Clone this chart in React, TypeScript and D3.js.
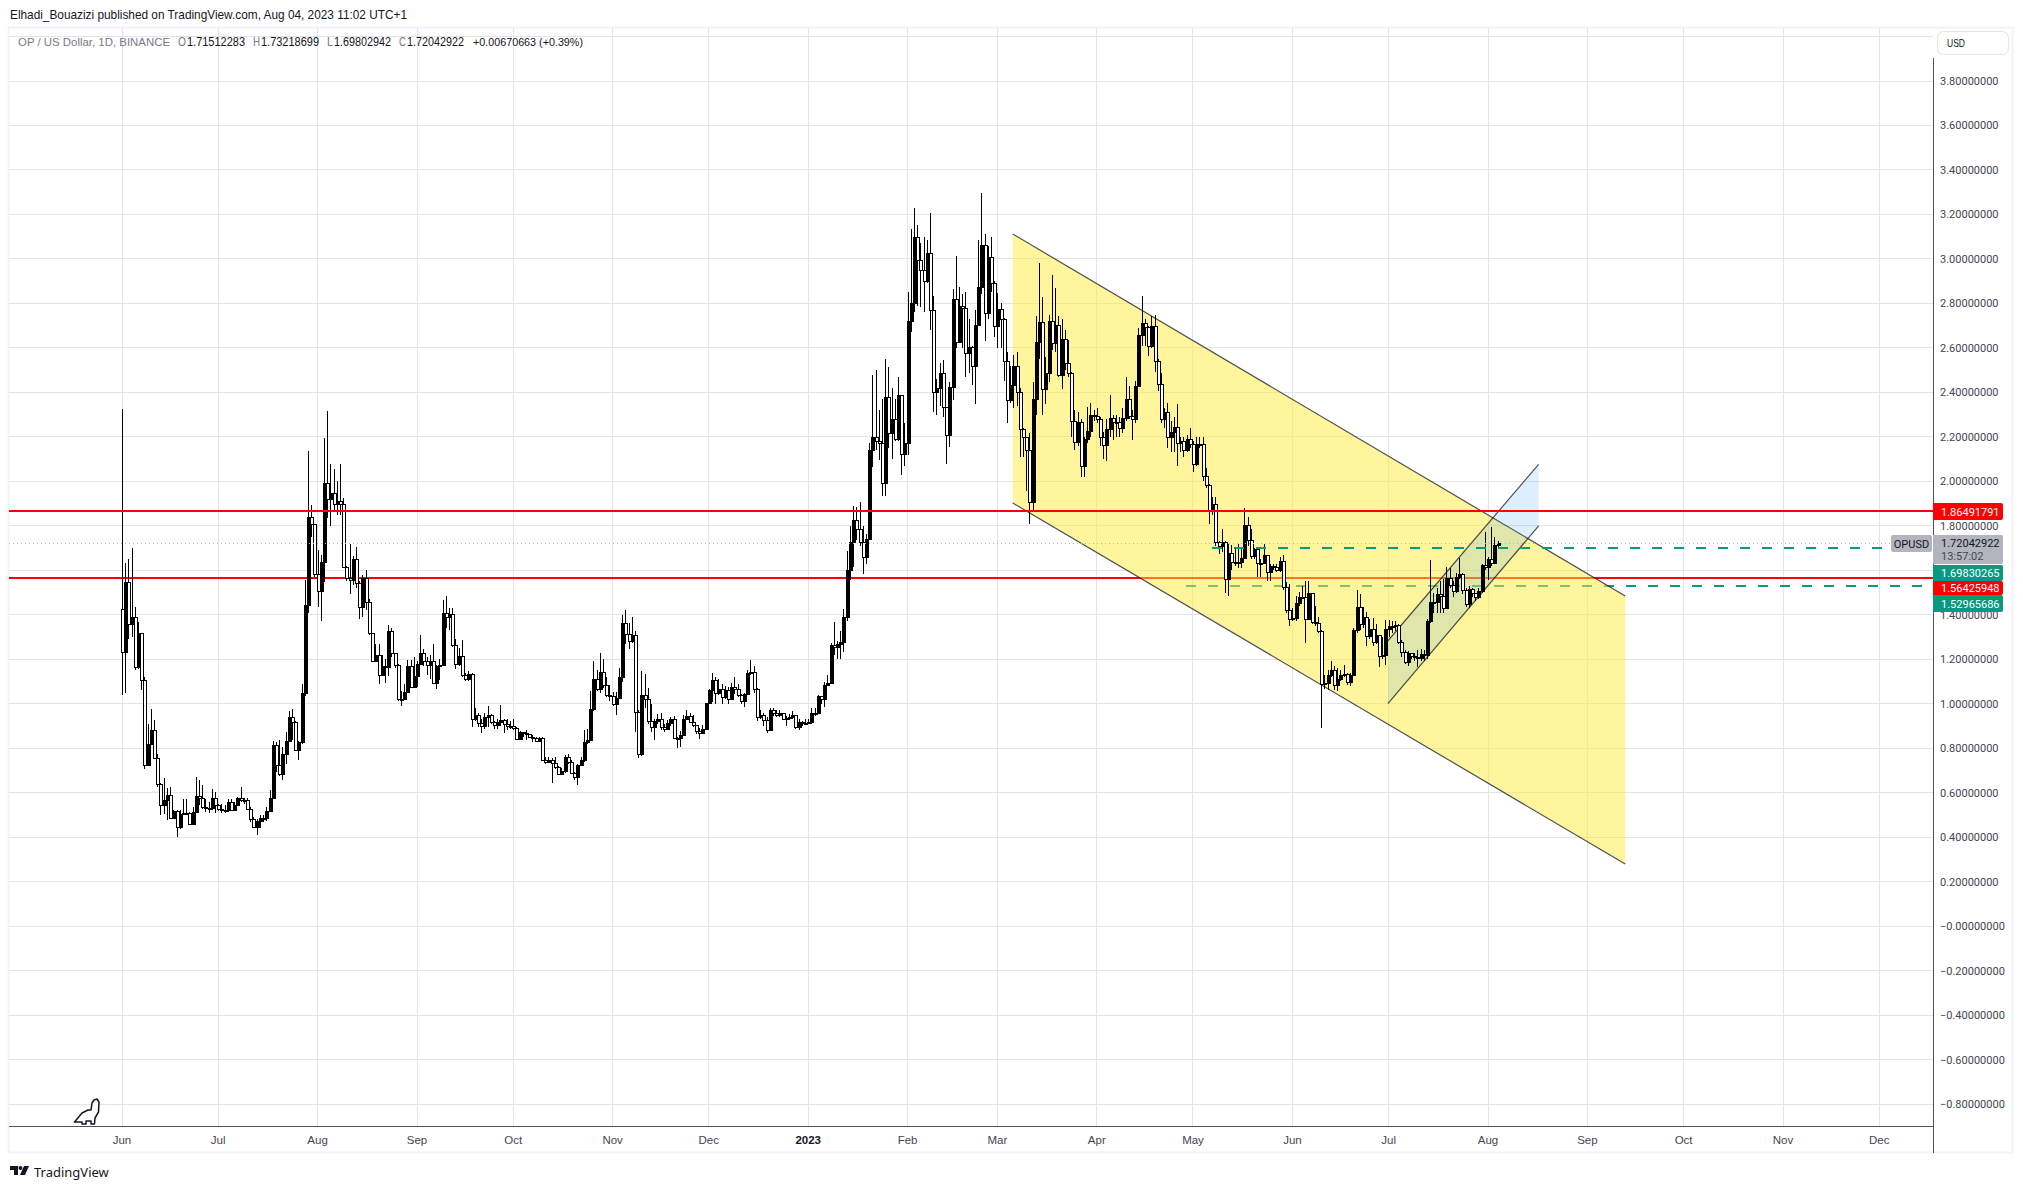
import React from "react";
import * as d3 from "d3";

const WIDTH = 2023;
const HEIGHT = 1189;

// daily candles from 2022-06-01, one value per day, ten per line
const firstOpen = 1.425;
const closes = [
  1.234,1.546,1.359,1.389,1.167,1.32,1.107,.726,.821,.88,
  .758,.64,.544,.566,.59,.488,.516,.446,.506,.509,
  .51,.461,.513,.585,.578,.536,.532,.533,.578,.544,
  .526,.521,.523,.559,.524,.544,.574,.566,.566,.528,
  .48,.446,.473,.488,.484,.518,.578,.816,.724,.686,
  .776,.833,.938,.918,.794,.826,1.05,1.446,1.841,1.806,
  1.583,1.508,1.635,1.991,1.919,1.946,1.9,1.91,1.898,1.616,
  1.564,1.556,1.649,1.541,1.436,1.567,1.457,1.32,1.193,1.22,
  1.13,1.17,1.166,1.326,1.226,1.174,1.019,1.02,1.053,1.17,
  1.076,1.126,1.18,1.23,1.193,1.174,1.192,1.094,1.169,1.176,
  1.41,1.391,1.402,1.264,1.18,1.214,1.128,1.109,1.132,.929,
  .951,.914,.899,.938,.948,.918,.906,.918,.926,.908,
  .9,.9,.891,.84,.872,.866,.863,.851,.846,.834,
  .844,.749,.74,.746,.734,.716,.686,.698,.761,.738,
  .69,.671,.726,.749,.828,.839,.974,1.113,1.068,1.144,
  1.084,1.04,1.034,1.0,1.026,1.118,1.361,1.313,1.281,1.308,
  .963,.776,1.038,1.019,.92,.896,.92,.933,.896,.886,
  .911,.93,.846,.846,.861,.929,.944,.918,.903,.878,
  .869,.888,1.001,1.061,1.106,1.049,1.068,1.028,1.061,1.022,
  1.076,1.068,1.041,1.013,1.043,1.136,1.144,1.064,.941,.951,
  .926,.881,.971,.96,.951,.959,.929,.936,.941,.948,
  .893,.918,.911,.914,.917,.956,.959,1.034,1.02,1.083,
  1.094,1.264,1.253,1.268,1.278,1.388,1.6,1.727,1.825,1.787,
  1.727,1.66,1.742,2.143,2.197,2.182,2.17,1.993,2.377,2.218,
  2.278,2.19,2.39,2.125,2.17,2.72,2.8,3.097,2.995,2.95,
  2.9,3.025,2.77,2.4,2.418,2.485,2.332,2.21,2.425,2.818,
  2.625,2.79,2.778,2.578,2.605,2.518,2.705,2.872,3.062,2.755,
  3.01,2.893,2.7,2.773,2.728,2.542,2.365,2.432,2.518,2.4,
  2.233,2.197,2.143,1.907,2.372,2.625,2.715,2.413,2.485,2.72,
  2.623,2.705,2.48,2.642,2.53,2.485,2.27,2.177,2.265,2.068,
  2.192,2.227,2.3,2.293,2.28,2.2,2.165,2.233,2.283,2.265,
  2.268,2.238,2.283,2.368,2.295,2.28,2.43,2.658,2.71,2.693,
  2.608,2.7,2.542,2.437,2.278,2.31,2.2,2.22,2.245,2.17,
  2.18,2.14,2.19,2.167,2.08,2.167,2.167,2.025,1.982,1.873,
  1.898,1.726,1.71,1.726,1.559,1.676,1.638,1.638,1.638,1.654,
  1.804,1.736,1.664,1.694,1.634,1.631,1.668,1.59,1.619,1.616,
  1.6,1.642,1.523,1.421,1.383,1.386,1.451,1.481,1.48,1.383,
  1.496,1.368,1.361,1.328,1.09,1.094,1.13,1.15,1.083,1.109,
  1.129,1.133,1.096,1.131,1.331,1.433,1.357,1.388,1.305,1.336,
  1.279,1.308,1.216,1.218,1.334,1.349,1.349,1.352,1.279,1.233,
  1.186,1.226,1.214,1.211,1.204,1.222,1.217,1.371,1.456,1.458,
  1.493,1.486,1.429,1.563,1.533,1.508,1.568,1.581,1.511,1.448,
  1.516,1.496,1.478,1.508,1.624,1.613,1.65,1.634,1.715,1.72042922,
];
const highs = [
  2.326,1.632,1.65,1.7,1.434,1.366,1.32,1.118,.907,.975,
  .927,.776,.645,.666,.62,.626,.524,.52,.524,.573,
  .57,.515,.536,.671,.656,.633,.573,.56,.615,.604,
  .55,.55,.545,.573,.573,.56,.58,.626,.575,.575,
  .535,.49,.483,.5,.5,.536,.61,.833,.828,.839,
  .806,.873,.966,.974,.923,.833,1.088,1.556,2.136,1.894,
  1.806,1.69,1.67,2.196,2.316,2.08,2.054,2.0,2.076,1.923,
  1.62,1.72,1.664,1.703,1.55,1.58,1.6,1.47,1.32,1.27,
  1.267,1.22,1.2,1.353,1.34,1.23,1.18,1.057,1.088,1.196,
  1.196,1.21,1.19,1.308,1.248,1.21,1.22,1.27,1.173,1.2,
  1.466,1.484,1.43,1.43,1.293,1.25,1.286,1.14,1.146,1.136,
  .979,.96,.933,.956,.989,.953,.92,.933,.993,.933,
  .93,.92,.93,.895,.878,.874,.88,.86,.857,.85,
  .85,.848,.76,.76,.757,.76,.72,.71,.768,.776,
  .745,.695,.731,.761,.881,.888,1.056,1.19,1.15,1.23,
  1.2,1.12,1.083,1.054,1.054,1.16,1.4,1.421,1.364,1.388,
  1.328,.97,1.146,1.133,1.07,1.0,.933,.953,.96,.91,
  .926,.941,.945,.85,.876,.948,.971,.956,.948,.905,
  .889,.903,1.004,1.065,1.139,1.118,1.113,1.09,1.08,1.073,
  1.091,1.118,1.088,1.045,1.05,1.15,1.196,1.17,1.07,.97,
  .96,.94,.98,.98,.97,.97,.955,.945,.955,.965,
  .95,.93,.92,.93,.93,.979,.98,1.04,1.035,1.098,
  1.128,1.274,1.368,1.28,1.328,1.424,1.687,1.8,1.888,1.885,
  1.905,1.798,1.762,2.17,2.48,2.5,2.32,2.368,2.55,2.515,
  2.418,2.37,2.467,2.39,2.263,2.85,3.133,3.228,3.152,3.07,
  3.1,3.085,3.205,2.833,2.46,2.533,2.545,2.33,2.448,2.863,
  3.013,2.875,2.84,2.85,2.73,2.61,2.77,3.085,3.295,3.112,
  3.06,3.097,2.9,2.845,2.8,2.735,2.58,2.52,2.57,2.58,
  2.418,2.24,2.2,2.215,2.448,2.743,2.98,2.83,2.56,2.748,
  2.927,2.867,2.743,2.73,2.68,2.635,2.49,2.32,2.31,2.28,
  2.2,2.335,2.35,2.32,2.328,2.29,2.22,2.28,2.39,2.3,
  2.3,2.29,2.33,2.47,2.43,2.32,2.45,2.69,2.833,2.73,
  2.7,2.743,2.75,2.55,2.485,2.33,2.35,2.27,2.29,2.347,
  2.2,2.2,2.21,2.238,2.18,2.2,2.2,2.2,2.06,1.99,
  1.93,1.93,1.73,1.785,1.73,1.72,1.713,1.7,1.72,1.7,
  1.878,1.84,1.784,1.7,1.7,1.65,1.72,1.67,1.63,1.63,
  1.63,1.66,1.67,1.545,1.536,1.43,1.486,1.503,1.53,1.55,
  1.551,1.5,1.44,1.39,1.33,1.13,1.15,1.19,1.17,1.16,
  1.15,1.176,1.14,1.14,1.34,1.51,1.493,1.436,1.414,1.379,
  1.384,1.36,1.31,1.3,1.376,1.376,1.37,1.37,1.36,1.285,
  1.24,1.235,1.23,1.23,1.24,1.244,1.24,1.38,1.646,1.5,
  1.52,1.55,1.56,1.613,1.608,1.55,1.589,1.656,1.586,1.52,
  1.53,1.52,1.5,1.52,1.63,1.77,1.66,1.793,1.748,1.73218699,
];
const lows = [
  1.04,1.05,1.29,1.3,1.152,1.155,1.06,.705,.726,.82,
  .75,.626,.5,.506,.476,.483,.483,.4,.438,.498,
  .5,.455,.46,.513,.544,.528,.513,.509,.521,.509,
  .516,.51,.51,.513,.52,.517,.54,.558,.55,.52,
  .468,.445,.41,.44,.47,.473,.518,.573,.694,.674,
  .656,.73,.83,.836,.79,.746,.82,1.034,1.409,1.75,
  1.57,1.433,1.37,1.546,1.833,1.8,1.87,1.85,1.85,1.61,
  1.55,1.493,1.533,1.518,1.383,1.39,1.42,1.31,1.19,1.19,
  1.09,1.125,1.094,1.124,1.21,1.16,1.01,.99,1.016,1.05,
  1.07,1.076,1.076,1.174,1.17,1.128,1.11,1.09,1.067,1.106,
  1.178,1.34,1.33,1.256,1.158,1.17,1.12,1.1,1.1,.896,
  .92,.896,.866,.885,.893,.91,.888,.888,.9,.869,
  .88,.885,.88,.836,.836,.85,.836,.845,.83,.826,
  .83,.745,.728,.735,.644,.708,.68,.68,.69,.73,
  .685,.656,.634,.72,.738,.82,.838,.966,1.058,1.05,
  1.07,1.03,1.01,.99,.95,1.02,1.098,1.27,1.248,1.275,
  .873,.757,.766,.98,.91,.873,.836,.91,.88,.873,
  .88,.9,.84,.803,.806,.855,.925,.912,.895,.862,
  .84,.866,.89,.998,1.008,1.0,1.04,1.0,1.02,.998,
  1.02,1.045,1.03,1.0,.986,1.04,1.13,1.05,.923,.93,
  .9,.869,.88,.945,.94,.94,.925,.9,.925,.93,
  .885,.88,.9,.905,.908,.91,.945,.952,1.0,.986,
  1.08,1.09,1.22,1.2,1.2,1.233,1.37,1.555,1.615,1.735,
  1.71,1.585,1.627,1.74,2.065,2.14,2.095,1.935,1.935,2.148,
  2.1,2.18,2.18,2.028,2.07,2.117,2.672,2.762,2.79,2.785,
  2.76,2.89,2.68,2.31,2.3,2.34,2.29,2.08,2.155,2.365,
  2.6,2.62,2.6,2.47,2.485,2.435,2.347,2.7,2.84,2.632,
  2.73,2.85,2.647,2.6,2.6,2.45,2.26,2.35,2.33,2.34,
  2.11,2.11,1.955,1.81,1.863,2.3,2.55,2.3,2.347,2.447,
  2.59,2.58,2.47,2.415,2.5,2.47,2.2,2.14,2.16,2.02,
  2.02,2.17,2.2,2.27,2.26,2.158,2.1,2.09,2.2,2.185,
  2.2,2.2,2.215,2.27,2.28,2.185,2.26,2.425,2.61,2.61,
  2.565,2.6,2.49,2.407,2.26,2.24,2.148,2.13,2.13,2.07,
  2.13,2.11,2.13,2.15,2.04,2.07,2.15,2.0,1.97,1.81,
  1.85,1.71,1.673,1.68,1.496,1.486,1.6,1.62,1.61,1.61,
  1.65,1.71,1.65,1.65,1.57,1.57,1.63,1.55,1.55,1.6,
  1.59,1.59,1.51,1.41,1.35,1.37,1.37,1.44,1.47,1.274,
  1.38,1.36,1.35,1.32,.889,1.064,1.06,1.12,1.06,1.056,
  1.1,1.12,1.085,1.08,1.125,1.32,1.33,1.34,1.26,1.29,
  1.26,1.27,1.166,1.2,1.175,1.3,1.32,1.325,1.27,1.21,
  1.178,1.17,1.2,1.19,1.163,1.19,1.19,1.2,1.365,1.41,
  1.41,1.41,1.406,1.43,1.52,1.48,1.5,1.56,1.495,1.436,
  1.43,1.48,1.463,1.47,1.5,1.6,1.556,1.62,1.63,1.69802942,
];

const priceTicks = [3.8,3.6,3.4,3.2,3,2.8,2.6,2.4,2.2,2,1.8,1.6,1.4,1.2,1,.8,.6,.4,.2,0,-.2,-.4,-.6,-.8];
const monthNames = ["Jun","Jul","Aug","Sep","Oct","Nov","Dec","2023","Feb","Mar","Apr","May","Jun","Jul","Aug","Sep","Oct","Nov","Dec"];
const monthDates = ["2022-06-01","2022-07-01","2022-08-01","2022-09-01","2022-10-01","2022-11-01","2022-12-01","2023-01-01","2023-02-01","2023-03-01","2023-04-01","2023-05-01","2023-06-01","2023-07-01","2023-08-01","2023-09-01","2023-10-01","2023-11-01","2023-12-01"];

// drawings, as date / price anchors
const bigChannel = { from: "2023-03-05T19:00Z", to: "2023-09-12T19:00Z", topFrom: 3.112, botFrom: 1.9025, topTo: 1.484, botTo: 0.279 };
const smallChannel = { from: "2023-06-30T19:00Z", to: "2023-08-16T19:00Z", topFrom: 1.283, botFrom: 1.0, topTo: 2.0765, botTo: 1.8 };
const upperLevel = 1.86491791;
const lowerLevel = 1.56425948;
const upperDash = { price: 1.69830265, from: "2023-05-06T21:00Z", to: "2023-12-01T19:00Z" };
const lowerDash = { price: 1.52965686, from: "2023-04-28T19:00Z", to: "2023-12-14T07:00Z" };
const lastPrice = 1.72042922;

const legendParts = [
  { x: 18, w: 152, size: 11.5, text: "OP / US Dollar, 1D, BINANCE", fill: "#787b86" },
  { x: 178, w: 8, size: 13, text: "O", fill: "#787b86" },
  { x: 187, w: 58, size: 13, text: "1.71512283", fill: "#131722" },
  { x: 253, w: 7, size: 13, text: "H", fill: "#787b86" },
  { x: 261, w: 58, size: 13, text: "1.73218699", fill: "#131722" },
  { x: 327, w: 6, size: 13, text: "L", fill: "#787b86" },
  { x: 334, w: 57, size: 13, text: "1.69802942", fill: "#131722" },
  { x: 399, w: 7, size: 13, text: "C", fill: "#787b86" },
  { x: 407, w: 57, size: 13, text: "1.72042922", fill: "#131722" },
  { x: 473, w: 110, size: 11.5, text: "+0.00670663 (+0.39%)", fill: "#131722" },
];

const x = d3.scaleUtc()
  .domain([new Date("2022-06-01"), new Date("2023-08-01")])
  .range([122, 1488]);
const y = d3.scaleLinear().domain([3.8, -0.8]).range([81, 1104]);

const dayX = (i: number) => x(new Date(Date.UTC(2022, 5, 1 + i)));
const priceLabel = (v: number) => v === 0 ? "\u22120.00000000" : (v < 0 ? "\u2212" : "") + Math.abs(v).toFixed(8);

const candles = closes.map((c, i) => ({
  i,
  open: i === 0 ? firstOpen : i === closes.length - 1 ? 1.71512283 : closes[i - 1],
  close: c,
  high: highs[i],
  low: lows[i],
}));

function channelPath(c: typeof bigChannel) {
  const x0 = x(new Date(c.from));
  const x1 = x(new Date(c.to));
  const area = d3.line()([[x0, y(c.topFrom)], [x1, y(c.topTo)], [x1, y(c.botTo)], [x0, y(c.botFrom)]]) + "Z";
  const top = d3.line()([[x0, y(c.topFrom)], [x1, y(c.topTo)]]) ?? undefined;
  const bot = d3.line()([[x0, y(c.botFrom)], [x1, y(c.botTo)]]) ?? undefined;
  return { area, top, bot };
}

const PRICE_FONT = "Roboto, sans-serif";
const TEXT_FONT = "'Liberation Sans', sans-serif";

export default function App() {
  const left = 9;
  const axisX = 1933;
  const axisY = 1126;
  const big = channelPath(bigChannel);
  const small = channelPath(smallChannel);

  const tags = [
    { text: "1.86491791", y0: 503, y1: 520, fill: "#ff0000", color: "#fff" },
    { text: "1.69830265", y0: 565, y1: 581, fill: "#089981", color: "#fff" },
    { text: "1.56425948", y0: 581, y1: 595, fill: "#ff0000", color: "#fff" },
    { text: "1.52965686", y0: 595, y1: 612, fill: "#089981", color: "#fff" },
  ];

  const levelY = (p: number) => Math.round(y(p));

  return (
    <svg width={WIDTH} height={HEIGHT} style={{ position: "absolute", left: 0, top: 0, background: "#fff" }}>
      <text x={10} y={19} fontFamily={TEXT_FONT} fontSize={13} fill="#131722" textLength={397} lengthAdjust="spacingAndGlyphs">
        Elhadi_Bouazizi published on TradingView.com, Aug 04, 2023 11:02 UTC+1
      </text>
      <rect x={8.5} y={27.5} width={2004} height={1125} fill="none" stroke="#f0f3fa" strokeWidth={2} />

      {/* grid */}
      <g stroke="#e4e4e8" strokeWidth={1} shapeRendering="crispEdges">
        {[4, ...priceTicks].map((v) => (
          <line key={v} x1={left} x2={axisX} y1={y(v)} y2={y(v)} />
        ))}
        {monthDates.map((d) => {
          const px = x(new Date(d));
          return <line key={d} x1={px} x2={px} y1={28} y2={axisY} />;
        })}
      </g>

      {/* below the channels */}
      <line x1={left} x2={axisX} y1={levelY(lowerLevel)} y2={levelY(lowerLevel)} stroke="#ff0000" strokeWidth={2} shapeRendering="crispEdges" />
      <line x1={x(new Date(lowerDash.from))} x2={x(new Date(lowerDash.to))} y1={levelY(lowerDash.price)} y2={levelY(lowerDash.price)}
        stroke="#089981" strokeWidth={2} strokeDasharray="10.5 11.5" shapeRendering="crispEdges" />

      <path d={big.area} fill="#ffeb3b" fillOpacity={0.5} />
      <path d={big.top} stroke="#131722" strokeOpacity={0.75} strokeWidth={1.2} fill="none" />
      <path d={big.bot} stroke="#131722" strokeOpacity={0.75} strokeWidth={1.2} fill="none" />
      <path d={small.area} fill="#2196f3" fillOpacity={0.15} />
      <path d={small.top} stroke="#131722" strokeOpacity={0.75} strokeWidth={1.2} fill="none" />
      <path d={small.bot} stroke="#131722" strokeOpacity={0.75} strokeWidth={1.2} fill="none" />

      {/* candles: black is up, white is down */}
      <g shapeRendering="crispEdges">
        {candles.map((d) => {
          const px = Math.round(dayX(d.i));
          const up = d.close >= d.open;
          const top = Math.round(y(Math.max(d.open, d.close)));
          const bot = Math.round(y(Math.min(d.open, d.close)));
          return (
            <g key={d.i}>
              <line x1={px + 0.5} x2={px + 0.5} y1={y(d.high)} y2={y(d.low)} stroke="#000" />
              <rect x={px - 0.5} y={top + 0.5} width={3} height={Math.max(bot - top, 1)}
                fill={up ? "#000" : "#fff"} stroke="#000" />
            </g>
          );
        })}
      </g>

      {/* above the candles */}
      <line x1={left} x2={axisX} y1={levelY(upperLevel)} y2={levelY(upperLevel)} stroke="#ff0000" strokeWidth={2} shapeRendering="crispEdges" />
      <line x1={x(new Date(upperDash.from))} x2={x(new Date(upperDash.to))} y1={levelY(upperDash.price)} y2={levelY(upperDash.price)}
        stroke="#089981" strokeWidth={2} strokeDasharray="10.5 11.5" shapeRendering="crispEdges" />
      <line x1={left} x2={1891} y1={y(lastPrice)} y2={y(lastPrice)} stroke="#b2b5be" strokeDasharray="1 3" />

      {/* axes */}
      <line x1={left} x2={axisX} y1={axisY} y2={axisY} stroke="#50535e" shapeRendering="crispEdges" />
      <line x1={axisX} x2={axisX} y1={58} y2={1153} stroke="#50535e" shapeRendering="crispEdges" />

      <g fontFamily={PRICE_FONT} fontSize={11} fill="#434651">
        {priceTicks.map((v) => (
          <text key={v} x={1940} y={y(v) + 4}>{priceLabel(v)}</text>
        ))}
      </g>
      <g fontFamily={TEXT_FONT} fontSize={11.5} fill="#434651" textAnchor="middle">
        {monthNames.map((m, i) => (
          <text key={monthDates[i]} x={x(new Date(monthDates[i]))} y={1144}
            fontWeight={m === "2023" ? 700 : 400} fill={m === "2023" ? "#131722" : "#434651"}>{m}</text>
        ))}
      </g>

      <rect x={1937.5} y={31.5} width={71} height={23} rx={6} fill="#fff" stroke="#e0e3eb" />
      <text x={1947} y={47} fontFamily={TEXT_FONT} fontSize={11} fill="#131722" textLength={18} lengthAdjust="spacingAndGlyphs">USD</text>

      {legendParts.map((p) => (
        <text key={p.x} x={p.x} y={46} fontFamily={TEXT_FONT} fontSize={p.size} fill={p.fill}
          textLength={p.w} lengthAdjust="spacingAndGlyphs">{p.text}</text>
      ))}

      {/* price tags */}
      <rect x={1891} y={535} width={41} height={17} rx={2} fill="#b2b5be" />
      <text x={1911.5} y={547.5} textAnchor="middle" fontFamily={PRICE_FONT} fontSize={11} fill="#131722">OPUSD</text>
      <path d="M1933 535h68a2 2 0 0 1 2 2v25a2 2 0 0 1-2 2h-68z" fill="#b2b5be" />
      <text x={1941} y={547} fontFamily={PRICE_FONT} fontSize={11} fill="#131722">1.72042922</text>
      <text x={1941} y={560} fontFamily={PRICE_FONT} fontSize={11} fill="#434651">13:57:02</text>
      {tags.map((t) => (
        <g key={t.text}>
          <path d={`M1933 ${t.y0}h68a2 2 0 0 1 2 2v${t.y1 - t.y0 - 4}a2 2 0 0 1-2 2h-68z`} fill={t.fill} />
          <text x={1941} y={(t.y0 + t.y1) / 2 + 4} fontFamily={PRICE_FONT} fontSize={11} fill={t.color}>{t.text}</text>
        </g>
      ))}

      {/* dino button */}
      <path d="M74.5 1122l7.5-9 6-3h3l1-7 2-3 3-1 2 3-.5 10-3.5 6-.5 6h-3.5v-3h-5v3h-4v-2z"
        fill="#fff" stroke="#131722" strokeWidth={1.5} strokeLinejoin="round" />

      {/* logo */}
      <g fill="#131722">
        <path d="M10 1166h8v9h-4v-5h-4z" />
        <circle cx={20.5} cy={1168} r={2} />
        <path d="M24 1166h5l-4 9h-5z" />
      </g>
      <text x={34} y={1177} fontFamily="'Noto Sans', sans-serif" fontSize={13} fill="#131722">TradingView</text>
    </svg>
  );
}
